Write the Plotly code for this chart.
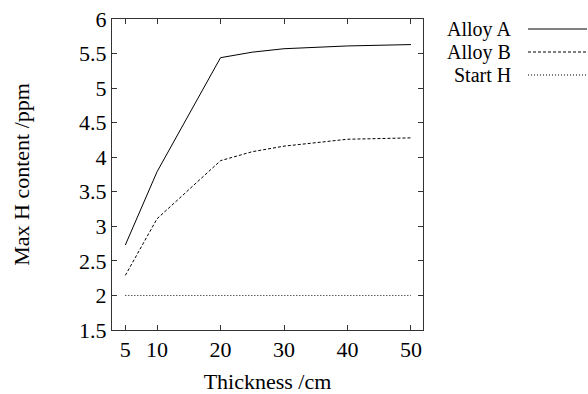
import plotly.graph_objects as go

thickness = [5, 10, 20, 25, 30, 40, 50]
alloy_a = [2.73, 3.79, 5.44, 5.52, 5.57, 5.61, 5.63]
alloy_b = [2.29, 3.11, 3.95, 4.08, 4.16, 4.26, 4.28]
start_h = [2.0, 2.0, 2.0, 2.0, 2.0, 2.0, 2.0]

x_ticks = [5, 10, 20, 30, 40, 50]
y_ticks = [1.5, 2, 2.5, 3, 3.5, 4, 4.5, 5, 5.5, 6]

series = [
    ("Alloy A", alloy_a, "solid"),
    ("Alloy B", alloy_b, "3px,2px"),
    ("Start H", start_h, "1px,2px"),
]

FONT = "Liberation Serif"
FS = 22
W, H = 588, 394
L, R, T, B = 112, 165, 19, 64
PW, PH = W - L - R, H - T - B

fig = go.Figure()
for name, ys, dash in series:
    fig.add_trace(go.Scatter(x=thickness, y=ys, mode="lines", name=name,
                             line=dict(color="black", width=1, dash=dash),
                             showlegend=False))

def px_x(px):
    return (px - L) / PW

def px_y(py):
    return (H - B - py) / PH

# manual legend (gnuplot style: text right-aligned, sample on the right)
leg_y = [29, 52, 75]
for (name, ys, dash), yp in zip(series, leg_y):
    fig.add_annotation(xref="paper", yref="paper", x=px_x(513), y=px_y(yp),
                       text=name, showarrow=False, xanchor="right", yanchor="middle",
                       font=dict(family=FONT, size=20, color="black"))
    fig.add_shape(type="line", xref="paper", yref="paper",
                  x0=px_x(528), x1=px_x(587), y0=px_y(yp), y1=px_y(yp),
                  line=dict(color="black", width=1, dash=dash))

axis_common = dict(showline=True, linecolor="#333333", linewidth=1, mirror="allticks",
                   ticks="inside", ticklen=5, tickcolor="#333333", showgrid=False,
                   zeroline=False, tickfont=dict(family=FONT, size=FS, color="black"))
fig.update_layout(
    width=W, height=H,
    margin=dict(l=L, r=R, t=T, b=B, autoexpand=False),
    plot_bgcolor="white", paper_bgcolor="white",
    xaxis=dict(range=[2.9, 51.9], tickvals=x_ticks,
               title=dict(text="Thickness /cm", font=dict(family=FONT, size=FS, color="black"), standoff=14),
               **axis_common),
    yaxis=dict(range=[1.5, 6], tickvals=y_ticks,
               title=dict(text="Max H content /ppm", font=dict(family=FONT, size=FS, color="black"), standoff=43),
               **axis_common),
)
fig.write_html("out.html", config={"displayModeBar": False},
               post_script="document.body.style.margin='0';")
